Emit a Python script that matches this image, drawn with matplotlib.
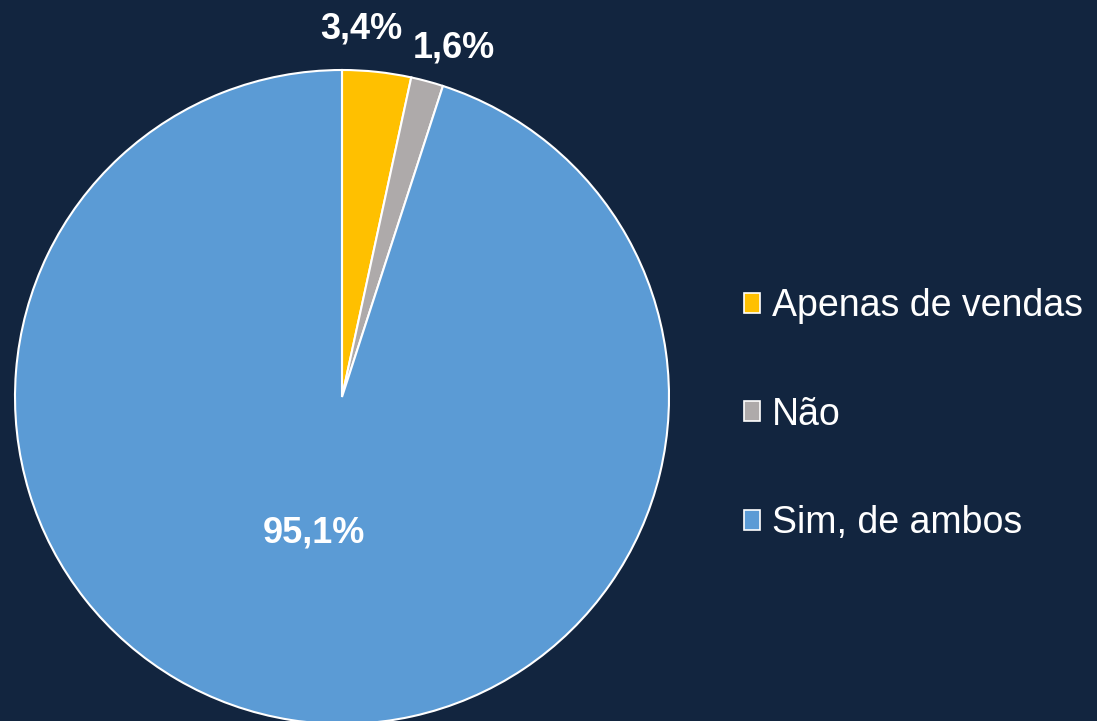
import matplotlib.pyplot as plt
import numpy as np

plt.rcParams['font.family'] = ['Liberation Sans', 'DejaVu Sans']

categories = ['Apenas de vendas', 'Não', 'Sim, de ambos']
values = [3.4, 1.6, 95.1]
labels = ['3,4%', '1,6%', '95,1%']
colors = ['#FFC000', '#AEAAAA', '#5B9BD5']
bg = '#12253F'

fig = plt.figure(figsize=(10.97, 7.21), dpi=100, facecolor=bg)
# pie centred at (342, 397) px, radius ~327 px
ax = fig.add_axes([15 / 1097, -3 / 721, 654 / 1097, 654 / 721])
ax.set_facecolor(bg)
wedges, _ = ax.pie(values, colors=colors, startangle=90, counterclock=False,
                   radius=1.0, wedgeprops=dict(edgecolor='white', linewidth=1.5))
ax.set_xlim(-1, 1)
ax.set_ylim(-1, 1)
ax.set_aspect('equal')
ax.axis('off')

# label placement: distance from centre and small nudge (in radius units)
place = [(1.13, -0.06, 0.003), (1.10, 0.055, 0.005), (0.42, -0.02, 0.0)]
for w, lab, (r, dx, dy) in zip(wedges, labels, place):
    mid = np.deg2rad((w.theta1 + w.theta2) / 2)
    ax.text(r * np.cos(mid) + dx, r * np.sin(mid) + dy, lab, color='white',
            fontsize=26, fontweight='bold', ha='center', va='center', clip_on=False)

leg = fig.legend(wedges, categories, loc='center left', bbox_to_anchor=(0.647, 0.425),
                 frameon=False, fontsize=27, labelcolor='white',
                 handlelength=0.45, handleheight=0.45, handletextpad=0.3,
                 labelspacing=1.93)
for h in leg.legend_handles:
    h.set_edgecolor('white')
    h.set_linewidth(1.2)

plt.savefig('out.png', dpi=100, facecolor=bg)
